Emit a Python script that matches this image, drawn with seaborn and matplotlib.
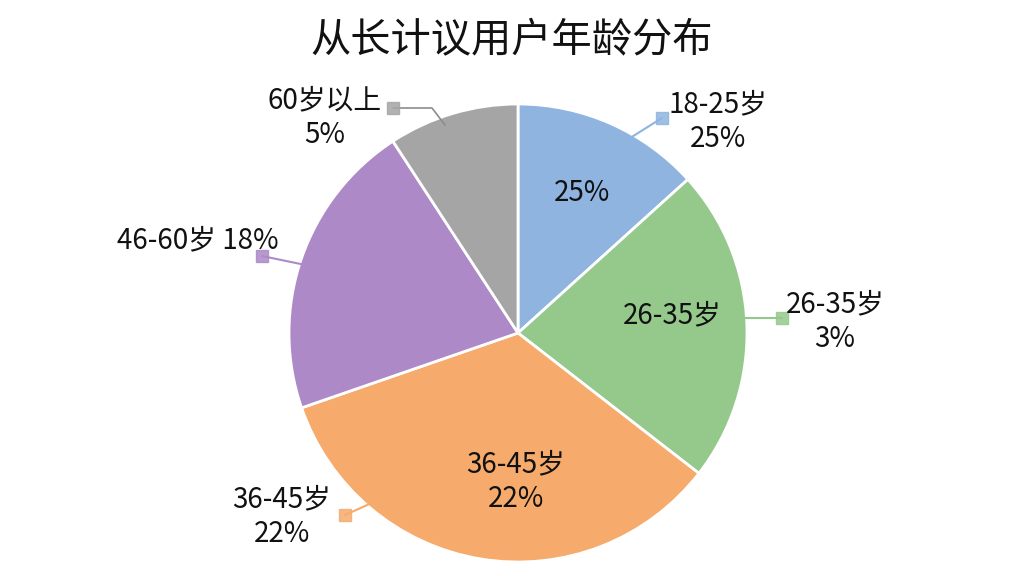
import numpy as np
import matplotlib
matplotlib.use("Agg")
import matplotlib.pyplot as plt
import seaborn as sns

# =========================
# DATA
# =========================
title = "从长计议用户年龄分布"
groups = ["18-25岁", "26-35岁", "36-45岁", "46-60岁", "60岁以上"]
shares = [13.3, 22.2, 34.2, 21.1, 9.2]          # slice sizes
pct_text = ["25%", "3%", "22%", "18%", "5%"]    # percentages as printed on the chart
colors = ["#8fb4e0", "#95c98c", "#f6ab6c", "#ad89c7", "#a5a5a5"]

# Styling
sns.set_theme(style="white")
plt.rcParams['font.family'] = ['Noto Sans CJK SC', 'DejaVu Sans']

fig = plt.figure(figsize=(10.24, 5.76), dpi=100)
ax = fig.add_axes([0, 0, 1, 1])

# pie radius 1 = R px, centre at (cx, cy) px from top-left
R = 229.0
cx, cy = 518.0, 333.0


def px(x, y):
    return (x - cx) / R, (cy - y) / R


wedges, _ = ax.pie(
    shares,
    colors=colors,
    startangle=90,
    counterclock=False,
    radius=1.0,
    wedgeprops=dict(edgecolor="white", linewidth=2),
)

ax.set_xlim(-cx / R, (1024 - cx) / R)
ax.set_ylim(-(576 - cy) / R, cy / R)
ax.set_aspect("equal")
ax.axis("off")

# =========================
# OUTER LABELS + LEADER LINES
# =========================
label_pos = [(718, 122), (835, 322), (282, 517), (198, 240), (325, 118)]
label_txt = [
    f"{groups[0]}\n{pct_text[0]}",
    f"{groups[1]}\n{pct_text[1]}",
    f"{groups[2]}\n{pct_text[2]}",
    f"{groups[3]} {pct_text[3]}",
    f"{groups[4]}\n{pct_text[4]}",
]
line_start = [(595, 160), (735, 318), (385, 497), (320, 268), (445, 125)]
line_end = [(662, 118), (782, 318), (345, 515), (262, 256), (393, 108)]

for i in range(len(groups)):
    x0, y0 = px(*line_start[i])
    x1, y1 = px(*line_end[i])
    if i == 4:
        xm, ym = px(432, 108)
        ax.plot([x0, xm, x1], [y0, ym, y1], color="#8c8c8c", lw=1.2)
    else:
        ax.plot([x0, x1], [y0, y1], color=colors[i], lw=1.5)
    ax.plot(x1, y1, marker="s", ms=8, color=colors[i], alpha=0.85)
    lx, ly = px(*label_pos[i])
    ax.text(lx, ly, label_txt[i], ha="center", va="center",
            fontsize=20, color="#111111", linespacing=1.2)

# =========================
# INNER LABELS
# =========================
ax.text(*px(582, 193), pct_text[0], ha="center", va="center",
        fontsize=20, color="#111111")
ax.text(*px(672, 315), groups[1], ha="center", va="center",
        fontsize=20, color="#111111")
ax.text(*px(516, 482), f"{groups[2]}\n{pct_text[2]}", ha="center",
        va="center", fontsize=20, color="#111111", linespacing=1.2)

fig.text(0.5, 1 - 41 / 576, title, ha="center", va="center",
         fontsize=29, color="#111111")

plt.savefig("out.png", dpi=100)
